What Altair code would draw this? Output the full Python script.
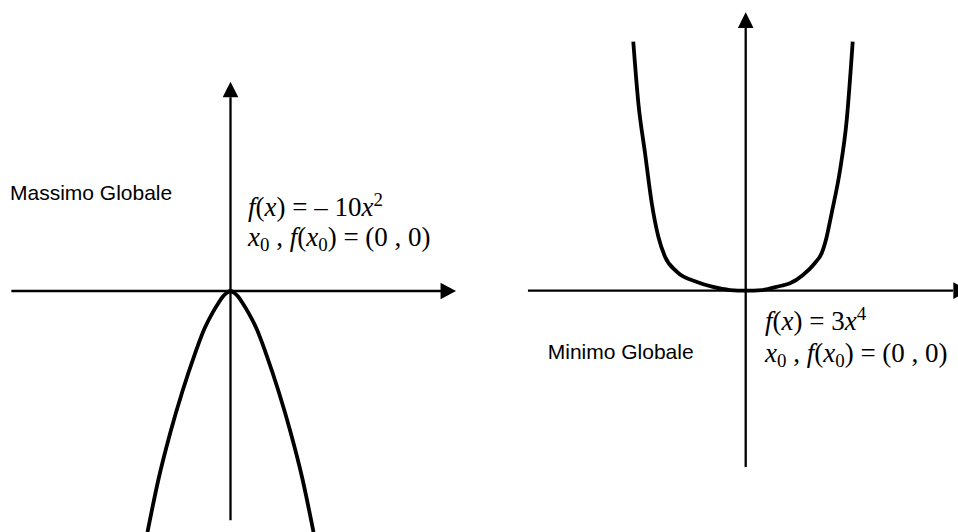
import altair as alt
import pandas as pd

# ---------------------------------------------------------------
# Traced curves (math units)
# ---------------------------------------------------------------
# f(x) = -10 x^2  (global maximum at the origin)
para_x = [-1.0, -0.867, -0.723, -0.578, -0.434, -0.313, -0.217, -0.145, -0.096, -0.048, 0.0,
          0.048, 0.096, 0.145, 0.217, 0.313, 0.434, 0.578, 0.723, 0.867, 1.0]
para_y = [-10.0, -7.80, -5.85, -4.15, -2.66, -1.56, -0.91, -0.50, -0.25, -0.083, 0.0,
          -0.083, -0.25, -0.50, -0.91, -1.56, -2.66, -4.15, -5.85, -7.80, -10.0]

# f(x) = 3 x^4  (global minimum at the origin)
quart_x = [-0.995, -0.950, -0.891, -0.832, -0.773, -0.714, -0.611, -0.431, -0.289, -0.139, 0.0,
           0.144, 0.304, 0.392, 0.507, 0.613, 0.673, 0.717, 0.761, 0.835, 0.894, 0.947]
quart_y = [3.0, 2.26, 1.66, 1.06, 0.65, 0.41, 0.23, 0.105, 0.045, 0.008, 0.0,
           0.008, 0.057, 0.089, 0.189, 0.334, 0.454, 0.651, 0.936, 1.454, 2.057, 3.0]

# Axis extents: [start, end of shaft, arrow head centre]
left_xaxis = [-2.64, 2.536, 2.624]
left_yaxis = [-9.51, 8.04, 8.36]
right_xaxis = [-1.927, 1.835, 1.906]
right_yaxis = [-2.124, 3.165, 3.259]

# Labels
left_label = "Massimo Globale"
right_label = "Minimo Globale"

# Formula lines as (token, kind): it = italic, rm = roman, sub/sup = scripts, sp = space
line_pair = [("x", "it"), ("0", "sub"), (" ", "sp"), (",", "rm"), (" ", "sp"), ("f", "it"),
             ("(", "rm"), ("x", "it"), ("0", "sub"), (")", "rm"), (" ", "sp"), ("=", "rm"),
             (" ", "sp"), ("(", "rm"), ("0", "rm"), (" ", "sp"), (",", "rm"), (" ", "sp"),
             ("0", "rm"), (")", "rm")]
line_left = [("f", "it"), ("(", "rm"), ("x", "it"), (")", "rm"), (" ", "sp"), ("=", "rm"),
             (" ", "sp"), ("\u2013", "rm"), (" ", "sp"), ("10", "rm"), ("x", "it"), ("2", "sup")]
line_right = [("f", "it"), ("(", "rm"), ("x", "it"), (")", "rm"), (" ", "sp"), ("=", "rm"),
              (" ", "sp"), ("3", "rm"), ("x", "it"), ("4", "sup")]

# ---------------------------------------------------------------
# Layout
# ---------------------------------------------------------------
PANEL_W, PANEL_H = 479, 532
FS = 27            # formula font size
SCRIPT = 0.7       # script size factor
SERIF = "Liberation Serif"
SANS = "Liberation Sans"
LABEL_FS = 21

# Times-compatible advance widths (per 1000 em)
ADV = {"(": 333, ")": 333, "=": 564, " ": 250, "\u2013": 500, ",": 250, "f": 278, "x": 444}


def advance(tok, kind):
    w = sum(ADV.get(c, 500) for c in tok) / 1000.0 * FS
    return w * SCRIPT if kind in ("sub", "sup") else w


def formula_rows(tokens, x0, y0, ppu):
    rows, pos = [], 0.0
    for tok, kind in tokens:
        if kind != "sp":
            shift = {"sub": -0.2 * FS, "sup": 0.36 * FS}.get(kind, 0.0)
            rows.append({"x": x0 + pos / ppu[0], "y": y0 + shift / ppu[1], "t": tok,
                         "kind": "script" if kind in ("sub", "sup") else kind})
        pos += advance(tok, kind)
    return rows


def arrow_path(direction):
    if direction == "right":
        return "M-1,-1.08L1,0L-1,1.08Z"
    return "M-1,1L0,-1L1,1Z"


def panel(origin, ppu, curve_x, curve_y, xaxis, yaxis, label, label_xy,
          lines, text_x, baselines):
    ox, oy = origin
    xs = alt.Scale(domain=[-ox / ppu[0], (PANEL_W - ox) / ppu[0]], nice=False, zero=False)
    ys = alt.Scale(domain=[-(PANEL_H - oy) / ppu[1], oy / ppu[1]], nice=False, zero=False)
    X = lambda f: alt.X(f, type="quantitative", scale=xs, axis=None)
    Y = lambda f: alt.Y(f, type="quantitative", scale=ys, axis=None)

    curve = pd.DataFrame({"x": curve_x, "y": curve_y})
    curve_layer = alt.Chart(curve).mark_line(
        color="black", strokeWidth=3.8, interpolate="monotone", clip=True
    ).encode(x=X("x"), y=Y("y"), order="x:Q")

    shafts = pd.DataFrame([
        {"x": xaxis[0], "x2": xaxis[1], "y": 0.0, "y2": 0.0},
        {"x": 0.0, "x2": 0.0, "y": yaxis[0], "y2": yaxis[1]},
    ])
    shaft_layer = alt.Chart(shafts).mark_rule(color="black", strokeWidth=2.3, clip=True).encode(
        x=X("x"), x2="x2", y=Y("y"), y2="y2")

    head_r = alt.Chart(pd.DataFrame({"x": [xaxis[2]], "y": [0.0]})).mark_point(
        shape=arrow_path("right"), size=240, filled=True, color="black", opacity=1,
        strokeWidth=0, clip=True
    ).encode(x=X("x"), y=Y("y"))
    head_u = alt.Chart(pd.DataFrame({"x": [0.0], "y": [yaxis[2]]})).mark_point(
        shape=arrow_path("up"), size=246, filled=True, color="black", opacity=1,
        strokeWidth=0, clip=True
    ).encode(x=X("x"), y=Y("y"))

    lab = alt.Chart(pd.DataFrame({"x": [label_xy[0]], "y": [label_xy[1]], "t": [label]})).mark_text(
        font=SANS, fontSize=LABEL_FS, align="left", baseline="alphabetic", color="black"
    ).encode(x=X("x"), y=Y("y"), text="t:N")

    rows = []
    for toks, base in zip(lines, baselines):
        rows += formula_rows(toks, text_x, base, ppu)
    fdf = pd.DataFrame(rows)
    layers = [curve_layer, shaft_layer, head_r, head_u, lab]
    for kind, style, size in [("it", "italic", FS), ("rm", "normal", FS), ("script", "normal", FS * SCRIPT)]:
        layers.append(
            alt.Chart(fdf).transform_filter(alt.datum.kind == kind).mark_text(
                font=SERIF, fontStyle=style, fontSize=size, align="left",
                baseline="alphabetic", color="black"
            ).encode(x=X("x"), y=Y("y"), text="t:N")
        )
    return alt.layer(*layers).properties(width=PANEL_W, height=PANEL_H)


left = panel(
    origin=(230.5, 291.0), ppu=(83.0, 24.1),
    curve_x=para_x, curve_y=para_y,
    xaxis=left_xaxis, yaxis=left_yaxis,
    label=left_label, label_xy=(-2.657, 3.776),
    lines=[line_left, line_pair], text_x=0.211, baselines=[3.112, 1.867],
)

right = panel(
    origin=(266.7, 290.7), ppu=(113.0, 83.0),
    curve_x=quart_x, curve_y=quart_y,
    xaxis=right_xaxis, yaxis=right_yaxis,
    label=right_label, label_xy=(-1.752, -0.827),
    lines=[line_right, line_pair], text_x=0.171, baselines=[-0.473, -0.859],
)

chart = alt.hconcat(left, right, spacing=0).properties(
    padding=0, background="white"
).configure_view(stroke=None)

chart.save("out.html", embed_options={"renderer": "svg", "actions": False})
